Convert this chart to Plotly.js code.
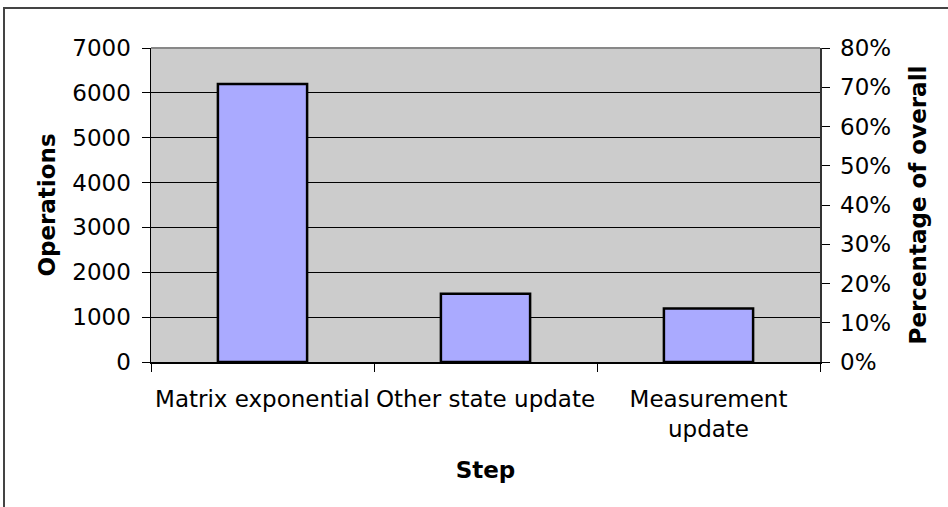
<!DOCTYPE html>
<html>
<head>
<meta charset="utf-8">
<script src="https://cdn.plot.ly/plotly-3.0.1.min.js"></script>
<style>
  html, body { margin: 0; padding: 0; background: #fff; overflow: hidden; }
  #chart { position: absolute; left: 0; top: 0; width: 948px; height: 507px; }
  #frame { position: absolute; left: 3px; top: 7px; width: 1000px; height: 600px;
           border-top: 2px solid #444; border-left: 2px solid #444; pointer-events: none; }
</style>
</head>
<body>
<div id="chart"></div>
<div id="frame"></div>
<script>
// Data
const categories = ["Matrix exponential", "Other state update", "Measurement<br>update"];
const operations = [6200, 1520, 1190];
const opsTickVals = [0, 1000, 2000, 3000, 4000, 5000, 6000, 7000];
const pctTickVals = [0, 0.1, 0.2, 0.3, 0.4, 0.5, 0.6, 0.7, 0.8];

const total = operations.reduce((a, b) => a + b, 0);
const percentages = operations.map(v => v / total);

const FONT = "DejaVu Sans, Verdana, sans-serif";
const FS = 23;

const traces = [
  {
    type: "bar",
    x: categories,
    y: operations,
    marker: { color: "#AAAAFF", line: { color: "#000000", width: 2.5 } },
    hoverinfo: "x+y",
    showlegend: false
  },
  {
    type: "scatter",
    mode: "markers",
    x: categories,
    y: percentages,
    yaxis: "y2",
    marker: { opacity: 0 },
    hoverinfo: "skip",
    showlegend: false
  }
];

const layout = {
  width: 948,
  height: 507,
  margin: { l: 151, r: 128, t: 48, b: 145 },
  paper_bgcolor: "#ffffff",
  plot_bgcolor: "#CCCCCC",
  bargap: 0.6,
  font: { family: FONT, size: FS, color: "#000" },
  xaxis: {
    type: "category",
    tickson: "boundaries",
    tickangle: 0,
    ticks: "outside",
    ticklen: 8,
    tickcolor: "#000",
    showline: true,
    linecolor: "#000",
    linewidth: 1.5,
    showgrid: false,
    tickfont: { family: FONT, size: FS, color: "#000" },
    ticklabelstandoff: 16,
    title: { text: "<b>Step</b>", font: { family: FONT, size: FS, color: "#000" }, standoff: 21 }
  },
  yaxis: {
    range: [0, 7000],
    tickvals: opsTickVals,
    ticks: "outside",
    ticklen: 8,
    tickcolor: "#000",
    showline: true,
    linecolor: "#000",
    linewidth: 1.5,
    showgrid: true,
    gridcolor: "#000",
    gridwidth: 1,
    zeroline: false,
    tickfont: { family: FONT, size: FS, color: "#000" },
    ticklabelstandoff: 6,
    title: { text: "<b>Operations</b>", font: { family: FONT, size: FS, color: "#000" }, standoff: 10 }
  },
  yaxis2: {
    overlaying: "y",
    side: "right",
    range: [0, 0.8],
    tickvals: pctTickVals,
    tickformat: ".0%",
    ticks: "outside",
    ticklen: 8,
    tickcolor: "#000",
    showline: true,
    linecolor: "#333",
    linewidth: 1.5,
    showgrid: false,
    zeroline: false,
    tickfont: { family: FONT, size: FS, color: "#000" },
    ticklabelstandoff: 6,
    title: { text: "<b>Percentage of overall</b>", font: { family: FONT, size: FS, color: "#000" }, standoff: 19 }
  },
  shapes: [
    {
      type: "line", xref: "paper", yref: "paper",
      x0: 0, x1: 1, y0: 1, y1: 1,
      line: { color: "#888888", width: 2 }
    }
  ]
};

Plotly.newPlot("chart", traces, layout, { displayModeBar: false, staticPlot: true });
</script>
</body>
</html>
